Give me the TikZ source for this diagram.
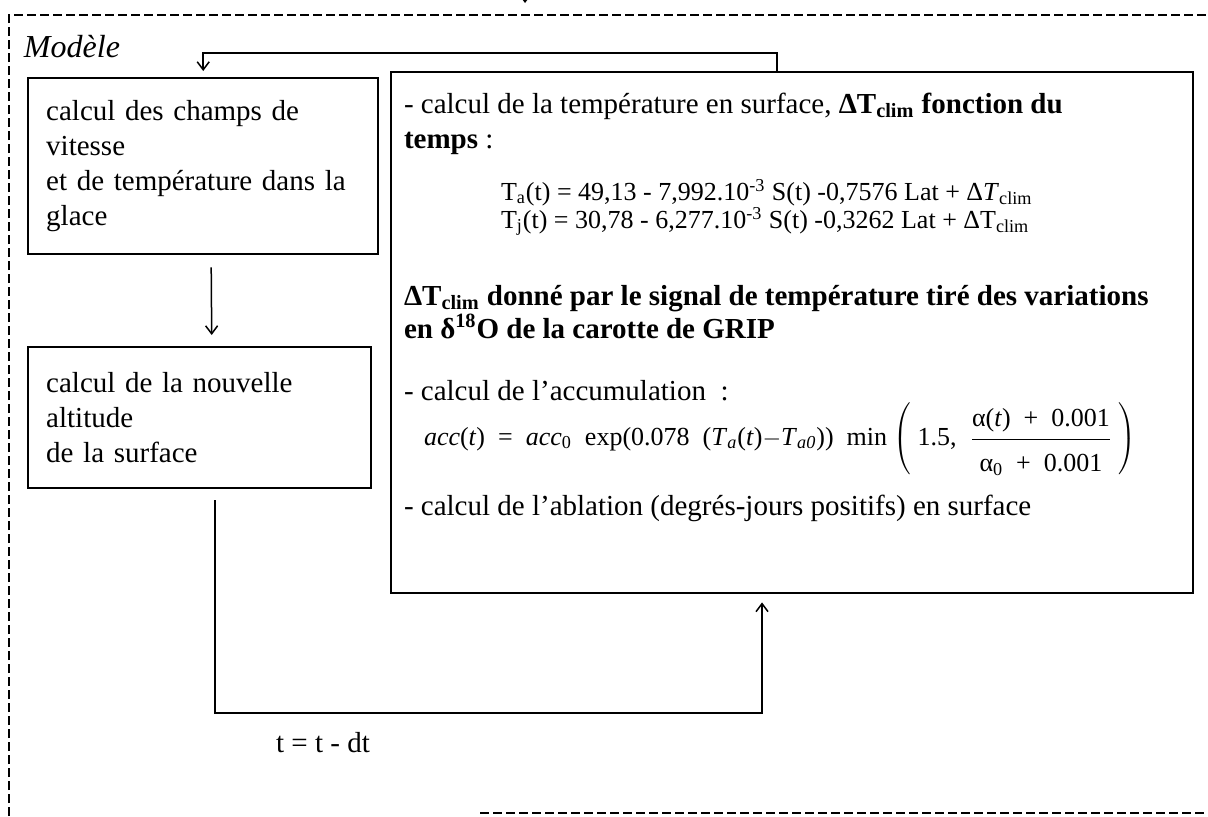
\documentclass[tikz,border=0pt]{standalone}
\usepackage{fontspec}
\setmainfont{Liberation Serif}
\usetikzlibrary{arrows.meta,calc}

\begin{document}
\begin{tikzpicture}[x=0.5pt,y=-0.5pt,line width=1pt,
  boite/.style={draw,line width=1.2pt,inner xsep=9pt,inner ysep=0pt,align=left,
    font=\fontsize{14.5}{17.5}\selectfont},
  fleche/.style={-{Straight Barb[length=4pt,width=6pt]},line width=0.75pt},
  cadre/.style={dash pattern=on 4.5pt off 2pt,line width=1pt},
  texte/.style={anchor=base west,inner sep=0pt,font=\fontsize{14.5}{17}\selectfont},
  gras/.style={texte,font=\fontsize{14.5}{17}\selectfont\bfseries},
  formule/.style={texte,font=\fontsize{13}{14}\selectfont}]

  \useasboundingbox (0,0) rectangle (1208,816);

  % cadre du modele
  \draw[cadre] (9,816) -- (9,15) -- (1208,15);
  \draw[cadre] (480,813) -- (1208,813);
  \coordinate (entree) at (525,-12);
  \draw[fleche] (entree) -- ++(0,15);

  \node[texte,font=\fontsize{16}{18}\selectfont\itshape] (titre) at (23,57) {Modèle};

  % boites de gauche
  \node[boite,anchor=north west,text width=157pt,minimum height=88pt] (champs) at (27,77)
    {calcul des champs de\\vitesse\\et de température dans la\\glace};
  \node[boite,anchor=north west,text width=153.5pt,minimum height=70.5pt] (altitude) at (27,346)
    {calcul de la nouvelle\\altitude\\de la surface};

  % boite de droite
  \node[boite,anchor=north west,minimum width=401pt,minimum height=260.5pt] (calcul) at (390,71) {};
  \node[texte] (temp) at (403,113)
    {- calcul de la température en surface, \textbf{ΔT\textsubscript{clim} fonction du}};
  \node[texte] (temps) at (403,148) {\textbf{temps} :};
  \node[formule] (ta) at (500,200)
    {T\textsubscript{a}(t) = 49,13 - 7,992.10\textsuperscript{-3} S(t) -0,7576 Lat + Δ\textit{T}\textsubscript{clim}};
  \node[formule] (tj) at (500,228)
    {T\textsubscript{j}(t) = 30,78 - 6,277.10\textsuperscript{-3} S(t) -0,3262 Lat + ΔT\textsubscript{clim}};
  \node[gras] (signal) at (403,305)
    {ΔT\textsubscript{clim} donné par le signal de température tiré des variations};
  \node[gras] (grip) at (403,338) {en δ\textsuperscript{18}O de la carotte de GRIP};
  \node[texte] (accu) at (403,400) {- calcul de l’accumulation \ :};
  \node[formule] (acc) at (423,445)
    {\textit{acc}(\textit{t}) \ = \ \textit{acc}\textsubscript{0} \ exp(0.078 \ (\textit{T}\textsubscript{\textit{a}}(\textit{t})$-$\textit{T}\textsubscript{\textit{a0}})) \ min
     $\left(\ \mbox{1.5,}\ \ \displaystyle\frac{\raisebox{1pt}{α(\textit{t}) \ + \ 0.001}}{\raisebox{-5pt}{α\textsubscript{0} \ + \ 0.001}}\ \right)$};
  \node[texte] (abla) at (403,515) {- calcul de l’ablation (degrés-jours positifs) en surface};

  % liaisons
  \coordinate (retour) at (777,53);
  \draw[fleche,shorten >=3pt] (calcul.north -| retour) -- (retour) -- (retour -| champs.north) -- (champs.north);
  \draw[fleche] ($(champs.south)+(8,12)$) -- ($(altitude.north)+(12,-11)$);

  \coordinate (coinbas) at (215,713);
  \coordinate (coinhaut) at (762,713);
  \draw[fleche,shorten >=4pt] (altitude.south -| coinbas) ++(0,11) -- (coinbas) -- (coinhaut) -- (coinhaut |- calcul.south);
  \node[texte,anchor=base] (pas) at (323,752) {t = t - dt};

\end{tikzpicture}
\end{document}
